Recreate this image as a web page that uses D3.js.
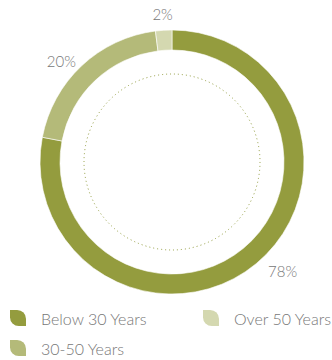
<!DOCTYPE html>
<html>
<head>
<meta charset="utf-8">
<script src="https://cdn.jsdelivr.net/npm/d3@7"></script>
<style>
  html, body { margin: 0; padding: 0; background: #fff; }
  svg { display: block; }
  text { font-family: Lato, "Open Sans", sans-serif; font-weight: 300; fill: #777; }
</style>
</head>
<body>
<svg id="chart" width="332" height="360"></svg>
<script>
// Age distribution of the workforce
const categories = ["Below 30 Years", "30-50 Years", "Over 50 Years"];
const shares = [78, 20, 2];
const colors = ["#949c3e", "#b4ba79", "#d4d8b0"];
// Legend reading order (two columns)
const legendOrder = ["Below 30 Years", "Over 50 Years", "30-50 Years"];

const svg = d3.select("#chart");
const cx = 172, cy = 162;
const outerR = 132, innerR = 112, dotR = 88;

const data = categories.map((c, i) => ({ name: c, value: shares[i], color: colors[i] }));
const color = d3.scaleOrdinal().domain(categories).range(colors);

const pie = d3.pie().value(d => d.value).sort(null);
const arc = d3.arc().innerRadius(innerR).outerRadius(outerR);
const arcs = pie(data);

const g = svg.append("g").attr("transform", `translate(${cx},${cy})`);

g.selectAll("path.slice")
  .data(arcs)
  .join("path")
  .attr("class", "slice")
  .attr("d", arc)
  .attr("fill", d => color(d.data.name))
  .attr("stroke", "#fff")
  .attr("stroke-width", 0.6);

// dotted guide circle inside the ring
g.append("circle")
  .attr("r", dotR)
  .attr("fill", "none")
  .attr("stroke", "#8f9a3a")
  .attr("stroke-width", 1)
  .attr("stroke-dasharray", "1 3");

// percentage labels placed outside the ring, nudged toward their slice
const labelArc = d3.arc().innerRadius(150).outerRadius(150);
const nudge = { "Below 30 Years": [15, -6], "30-50 Years": [-8, 9], "Over 50 Years": [0, 2] };
g.selectAll("text.pct")
  .data(arcs)
  .join("text")
  .attr("class", "pct")
  .attr("text-anchor", "middle")
  .attr("font-size", 15)
  .attr("transform", d => {
    const [x, y] = labelArc.centroid(d);
    const [dx, dy] = nudge[d.data.name];
    return `translate(${x + dx},${y + dy})`;
  })
  .attr("dy", "0.35em")
  .text(d => d.data.value + "%");

// legend with leaf-shaped markers
const leaf = (s) => `M0,0 H${s * 0.45} A${s * 0.55},${s * 0.55} 0 0 1 ${s},${s * 0.55} V${s} H${s * 0.55} A${s * 0.55},${s * 0.55} 0 0 1 0,${s * 0.45} Z`;
const legendPos = [[10, 310], [203, 310], [10, 340]];
const lg = svg.selectAll("g.legend")
  .data(legendOrder)
  .join("g")
  .attr("class", "legend")
  .attr("transform", (d, i) => `translate(${legendPos[i][0]},${legendPos[i][1]})`);
lg.append("path").attr("d", leaf(16)).attr("fill", d => color(d));
lg.append("text")
  .attr("x", 31)
  .attr("y", 15)
  .attr("font-size", 16)
  .text(d => d);
</script>
</body>
</html>
